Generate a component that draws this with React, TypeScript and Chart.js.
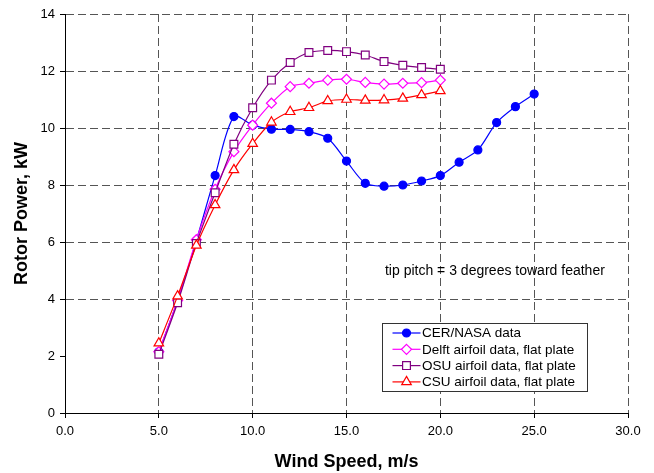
import React, { useEffect, useRef } from "react";
import { Chart, registerables } from "chart.js";

Chart.register(...registerables);

// ---- data ----
const cerWindSpeed = [5, 6, 7, 8, 9, 10, 11, 12, 13, 14, 15, 16, 17, 18, 19, 20, 21, 22, 23, 24, 25];
const cerNasaPower = [2.15, 3.95, 6.05, 8.33, 10.4, 10.1, 9.96, 9.95, 9.87, 9.64, 8.84, 8.06, 7.96, 8.0, 8.14, 8.33, 8.8, 9.23, 10.19, 10.75, 11.19];

const modelWindSpeed = [5, 6, 7, 8, 9, 10, 11, 12, 13, 14, 15, 16, 17, 18, 19, 20];
const delftPower = [2.15, 3.95, 6.08, 7.85, 9.17, 10.1, 10.87, 11.45, 11.57, 11.68, 11.71, 11.6, 11.54, 11.57, 11.59, 11.68];
const osuPower = [2.06, 3.87, 5.95, 7.73, 9.43, 10.71, 11.68, 12.3, 12.65, 12.72, 12.68, 12.56, 12.33, 12.2, 12.12, 12.06];
const csuPower = [2.45, 4.1, 5.88, 7.3, 8.53, 9.45, 10.2, 10.57, 10.71, 10.95, 11.0, 10.97, 10.98, 11.04, 11.16, 11.3];

const seriesLabels = [
  "CER/NASA data",
  "Delft airfoil data, flat plate",
  "OSU airfoil data, flat plate",
  "CSU airfoil data, flat plate",
];

const xTitle = "Wind Speed, m/s";
const yTitle = "Rotor Power, kW";
const xMin = 0, xMax = 30, xStep = 5;
const yMin = 0, yMax = 14, yStep = 2;

const noteText = "tip pitch = 3 degrees toward feather";
const noteX = 17.05;
const noteY = 4.98;

const FONT = "'Liberation Sans', Arial, sans-serif";

const toPoints = (xs: number[], ys: number[]) => xs.map((x, i) => ({ x, y: ys[i] }));

type Style = { color: string; shape: string; fill: string; radius: number };
const styles: Style[] = [
  { color: "#0000FF", shape: "circle", fill: "#0000FF", radius: 4 },
  { color: "#FF00FF", shape: "rectRot", fill: "#FFFFFF", radius: 5 },
  { color: "#800080", shape: "rect", fill: "#FFFFFF", radius: 5.5 },
  { color: "#FF0000", shape: "triangle", fill: "#FFFFFF", radius: 5.5 },
];

function drawMarker(ctx: CanvasRenderingContext2D, s: Style, x: number, y: number) {
  ctx.save();
  ctx.beginPath();
  const r = s.radius;
  if (s.shape === "circle") {
    ctx.arc(x, y, r, 0, Math.PI * 2);
  } else if (s.shape === "rectRot") {
    ctx.moveTo(x, y - r);
    ctx.lineTo(x + r, y);
    ctx.lineTo(x, y + r);
    ctx.lineTo(x - r, y);
    ctx.closePath();
  } else if (s.shape === "rect") {
    const h = r * Math.SQRT1_2;
    ctx.rect(x - h, y - h, 2 * h, 2 * h);
  } else {
    const a = -Math.PI / 2;
    for (let k = 0; k < 3; k++) {
      const ang = a + (k * 2 * Math.PI) / 3;
      const px = x + Math.cos(ang) * r;
      const py = y + Math.sin(ang) * r;
      if (k === 0) ctx.moveTo(px, py);
      else ctx.lineTo(px, py);
    }
    ctx.closePath();
  }
  ctx.fillStyle = s.fill;
  ctx.fill();
  ctx.lineWidth = 1.2;
  ctx.strokeStyle = s.color;
  ctx.stroke();
  ctx.restore();
}

const overlayPlugin = {
  id: "overlay",
  afterDraw(chart: any) {
    const ctx: CanvasRenderingContext2D = chart.ctx;
    const xs = chart.scales.x;
    const ys = chart.scales.y;
    const area = chart.chartArea;

    // annotation
    ctx.save();
    ctx.font = `14px ${FONT}`;
    ctx.fillStyle = "#000";
    ctx.textAlign = "left";
    ctx.textBaseline = "middle";
    ctx.fillText(noteText, xs.getPixelForValue(noteX), ys.getPixelForValue(noteY));
    ctx.restore();

    // legend box
    const left = area.left + 317.5;
    const top = area.top + 309.5;
    const w = 205;
    const h = 68;
    ctx.save();
    ctx.fillStyle = "#FFFFFF";
    ctx.fillRect(left, top, w, h);
    ctx.strokeStyle = "#333";
    ctx.lineWidth = 1;
    ctx.strokeRect(left, top, w, h);
    ctx.font = `13.5px ${FONT}`;
    ctx.textBaseline = "middle";
    ctx.textAlign = "left";
    seriesLabels.forEach((label, i) => {
      const s = styles[i];
      const cy = top + 9.5 + i * 16.3;
      ctx.strokeStyle = s.color;
      ctx.lineWidth = 1.2;
      ctx.beginPath();
      ctx.moveTo(left + 10, cy);
      ctx.lineTo(left + 38, cy);
      ctx.stroke();
      drawMarker(ctx, s, left + 24, cy);
      ctx.fillStyle = "#000";
      ctx.fillText(label, left + 39.5, cy + 0.5);
    });
    ctx.restore();
  },
};

export default function App() {
  const ref = useRef<HTMLCanvasElement | null>(null);

  useEffect(() => {
    if (!ref.current) return;
    const mk = (i: number, xs: number[], ys: number[], order: number, tension: number) => ({
      label: seriesLabels[i],
      data: toPoints(xs, ys),
      borderColor: styles[i].color,
      backgroundColor: styles[i].fill,
      pointBackgroundColor: styles[i].fill,
      pointBorderColor: styles[i].color,
      pointStyle: styles[i].shape,
      pointRadius: styles[i].radius,
      pointBorderWidth: 1.2,
      borderWidth: 1.2,
      tension,
      order,
      fill: false,
    });

    const gridColor = (hidden: number[]) => (c: any) =>
      c.tick && hidden.includes(c.tick.value) ? "rgba(0,0,0,0)" : "#555";

    const chart = new Chart(ref.current, {
      type: "line",
      data: {
        datasets: [
          mk(0, cerWindSpeed, cerNasaPower, 4, 0.3),
          mk(1, modelWindSpeed, delftPower, 3, 0.25),
          mk(2, modelWindSpeed, osuPower, 2, 0.25),
          mk(3, modelWindSpeed, csuPower, 1, 0.25),
        ] as any,
      },
      options: {
        animation: false,
        responsive: false,
        layout: { padding: { top: 14, right: 26, left: 0, bottom: 0 } },
        plugins: {
          legend: { display: false },
          tooltip: { enabled: false },
        },
        scales: {
          x: {
            type: "linear",
            min: xMin,
            max: xMax,
            ticks: {
              stepSize: xStep,
              color: "#000",
              font: { family: FONT, size: 13 },
              padding: 6,
              maxRotation: 0,
              callback: (v: any) => Number(v).toFixed(1),
            },
            grid: {
              color: gridColor([0]),
              lineWidth: 1,
              tickLength: 5,
              tickColor: "#000",
              tickWidth: 1,
            },
            border: { display: true, color: "#000", width: 1, dash: [8, 4] },
            title: {
              display: true,
              text: xTitle,
              color: "#000",
              font: { family: FONT, size: 18, weight: "bold" },
              padding: { top: 0, bottom: 0 },
            },
            afterFit: (s: any) => {
              s.height = 60;
            },
          },
          y: {
            type: "linear",
            min: yMin,
            max: yMax,
            ticks: {
              stepSize: yStep,
              color: "#000",
              font: { family: FONT, size: 13 },
              padding: 5,
            },
            grid: {
              color: gridColor([0, 2]),
              lineWidth: 1,
              tickLength: 5,
              tickColor: "#000",
              tickWidth: 1,
            },
            border: { display: true, color: "#000", width: 1, dash: [8, 4] },
            title: {
              display: true,
              text: yTitle,
              color: "#000",
              font: { family: FONT, size: 18, weight: "bold" },
              padding: { top: 11, bottom: 0 },
            },
            afterFit: (s: any) => {
              s.width = 65;
            },
          },
        },
      } as any,
      plugins: [overlayPlugin],
    });
    return () => chart.destroy();
  }, []);

  return (
    <div style={{ position: "absolute", left: 0, top: 0, width: 654, height: 473, background: "#fff" }}>
      <canvas ref={ref} width={654} height={473} style={{ display: "block" }} />
    </div>
  );
}
